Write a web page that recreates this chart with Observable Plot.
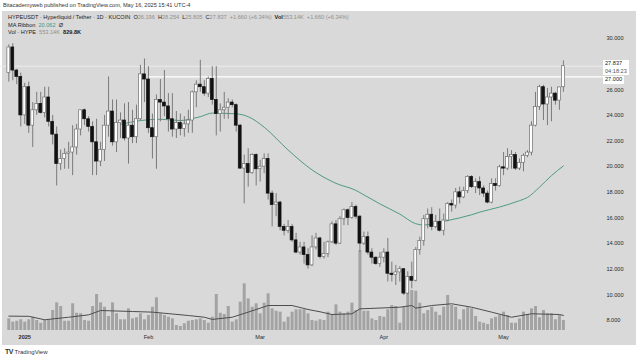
<!DOCTYPE html>
<html><head><meta charset="utf-8">
<script src="https://cdn.jsdelivr.net/npm/d3@7"></script>
<script src="https://cdn.jsdelivr.net/npm/@observablehq/plot@0.6"></script>
<style>
body{margin:0;width:640px;height:360px;background:#fff;overflow:hidden;position:relative;font-family:"Liberation Sans",Arial,sans-serif;}
.abs{position:absolute;}
#panel{left:2px;top:11px;width:634px;height:334px;background:#d9d9d9;}
#top{left:3px;top:2px;font-size:5.6px;color:#333;white-space:nowrap;}
#legend{left:8px;top:14px;font-size:5.6px;color:#222;line-height:7.6px;white-space:nowrap;}
.g{color:#8f8f8f}.t{color:#3f9682}.b{font-weight:bold}
.pbox{background:#fff;color:#222;font-size:5.6px;padding:0 2px;line-height:7.5px;}
#foot{left:5px;top:348px;font-size:6px;color:#333;white-space:nowrap;}
</style></head><body>
<div id="panel" class="abs"></div>
<div id="top" class="abs">Bitacademyweb published on TradingView.com, May 16, 2025 15:41 UTC-4</div>
<div id="vol" class="abs" style="left:0;top:0"></div>
<div id="price" class="abs" style="left:0;top:0"></div>
<div id="legend" class="abs">
<div>HYPEUSDT · Hyperliquid / Tether · 1D · KUCOIN &nbsp;O<span class="g">26.196</span> &nbsp;H<span class="g">28.254</span> &nbsp;L<span class="g">25.805</span> &nbsp;C<span class="g">27.837</span> &nbsp;<span class="g">+1.660 (+6.34%)</span> &nbsp;<span class="b">Vol</span><span class="g">553.14K</span> &nbsp;<span class="g">+1.660 (+6.34%)</span></div>
<div>MA Ribbon &nbsp;<span class="t">20.062</span> &nbsp;Ø</div>
<div>Vol · HYPE &nbsp;<span class="g">553.14K</span> &nbsp;<span class="b">829.8K</span></div>
</div>
<div class="abs pbox" style="left:603px;top:60px;">27.837<br><span style="color:#555">04:18:23</span></div>
<div class="abs pbox" style="left:603px;top:76px;">27.000</div>
<div id="foot" class="abs"><span class="b" style="font-size:7px;letter-spacing:-0.5px">TV</span> TradingView</div>
<script>
// ---- data (daily candles, Dec 28 2024 -> May 16 2025) ----
const startDate = "2024-12-28";
const open  = [27.3,29.3,27.5,27.0,24.0,26.2,23.2,24.4,24.9,24.2,25.4,23.5,22.5,20.2,20.6,21.0,21.1,21.5,22.9,24.4,23.7,23.1,21.9,20.4,21.3,23.2,24.3,21.9,23.4,23.6,22.2,23.2,22.3,23.7,27.2,26.8,23.0,22.3,25.2,25.0,24.7,23.7,22.9,23.4,22.95,23.3,23.6,25.8,26.4,26.2,25.7,26.85,25.2,24.1,24.4,24.6,25.0,24.8,23.2,19.85,20.2,19.5,20.9,19.8,20.0,20.6,17.9,17.0,17.2,15.3,15.0,15.3,14.25,13.3,13.7,13.1,12.3,13.7,14.4,12.95,13.2,14.1,15.5,14.0,15.9,16.6,16.0,16.85,16.1,14.0,14.5,13.3,12.9,12.4,12.9,13.3,11.65,11.55,11.75,12.0,10.1,11.4,11.1,13.5,14.2,15.9,16.25,15.3,15.7,15.0,15.8,17.1,16.97,18.0,17.6,18.1,19.2,18.4,18.8,18.3,17.9,17.2,18.65,18.5,19.95,19.85,20.75,20.9,19.85,20.3,20.85,21.1,23.2,24.65,26.2,24.85,25.4,25.7,25.15,26.196];
const high  = [29.5,29.6,27.6,27.3,26.5,26.6,25.0,25.8,25.8,26.2,26.2,24.0,23.1,21.3,21.4,21.9,23.2,23.3,24.4,24.5,23.9,23.5,23.7,21.9,24.0,27.0,25.2,25.2,24.2,24.9,25.0,24.4,24.8,27.9,28.4,27.8,24.1,25.6,26.8,27.5,25.7,25.7,24.3,24.1,23.9,24.4,25.9,26.7,28.3,26.7,27.0,27.8,27.8,24.9,25.8,25.3,25.2,24.9,23.3,20.9,21.4,21.0,21.0,20.5,21.0,21.0,18.1,17.9,17.3,15.5,15.8,15.5,14.8,14.1,14.1,13.6,14.6,14.8,14.5,14.1,14.2,15.7,15.8,16.1,16.7,16.7,17.2,17.0,16.2,14.9,14.9,13.6,12.95,13.3,13.6,14.4,12.55,12.3,12.2,12.05,11.8,12.55,13.7,14.5,16.2,16.7,16.8,16.2,16.7,16.3,17.2,17.4,18.3,18.4,18.4,19.3,19.3,19.05,19.2,18.5,18.1,19.05,19.05,20.1,21.1,21.4,21.25,21.1,20.6,21.0,21.25,23.5,25.8,26.35,26.35,26.1,26.2,25.8,26.2,28.254];
const low   = [26.6,26.7,26.4,23.1,23.3,22.6,21.5,24.0,24.1,23.8,23.1,21.7,18.5,19.7,19.8,19.8,19.3,20.9,22.4,23.2,22.7,19.3,19.3,20.0,20.4,22.3,21.6,21.1,22.2,22.0,20.2,21.8,21.8,23.6,25.0,22.6,20.6,19.8,23.5,23.9,22.7,22.3,22.2,22.4,22.3,22.6,22.6,24.6,25.8,25.5,25.4,24.8,22.4,22.7,23.7,23.7,24.6,22.7,19.8,17.1,18.4,19.4,18.5,18.8,19.45,17.4,15.3,16.1,15.0,14.6,14.8,14.1,13.2,13.1,12.4,12.0,12.2,13.5,12.8,12.8,12.9,14.0,13.85,13.95,15.4,15.4,15.9,15.9,13.3,13.85,13.1,12.4,12.3,12.15,12.5,11.0,11.0,10.73,11.0,9.95,10.0,10.47,11.0,13.1,13.8,15.15,15.0,15.15,14.9,14.6,15.7,16.45,16.7,17.1,17.5,17.9,18.3,17.9,17.75,17.6,17.1,17.1,18.1,18.4,19.3,19.7,19.8,19.7,19.7,19.6,20.7,20.85,23.1,24.4,23.6,23.2,23.5,24.8,24.4,25.805];
const close = [29.3,27.5,27.0,24.0,26.2,23.2,24.4,24.9,24.2,25.4,23.5,22.5,20.2,20.6,21.0,21.1,21.5,22.9,24.4,23.7,23.1,21.9,20.4,21.3,23.2,24.3,21.9,23.4,23.6,22.2,23.2,22.3,23.7,27.2,26.8,23.0,22.3,25.2,25.0,24.7,23.7,22.9,23.4,22.95,23.3,23.6,25.8,26.4,26.2,25.7,26.85,25.2,24.1,24.4,24.6,25.0,24.8,23.2,19.85,20.2,19.5,20.9,19.8,20.0,20.6,17.9,17.0,17.2,15.3,15.0,15.3,14.25,13.3,13.7,13.1,12.3,13.7,14.4,12.95,13.2,14.1,15.5,14.0,15.9,16.6,16.0,16.85,16.1,14.0,14.5,13.3,12.9,12.4,12.9,13.3,11.65,11.55,11.75,12.0,10.1,11.4,11.1,13.5,14.2,15.9,16.25,15.3,15.7,15.0,15.8,17.1,16.97,18.0,17.6,18.1,19.2,18.4,18.8,18.3,17.9,17.2,18.65,18.5,19.95,19.85,20.75,20.9,19.85,20.3,20.85,21.1,23.2,24.65,26.2,24.85,25.4,25.7,25.15,26.18,27.837];
const volumeK = [640,460,510,590,460,590,730,550,400,550,590,1100,1520,1320,510,510,1470,950,920,550,510,1320,1980,1520,1280,770,1520,920,590,590,1190,640,700,920,590,825,1280,1800,920,825,730,640,275,220,370,510,550,590,640,550,400,730,1980,950,880,1320,460,590,1560,2570,1740,1280,1470,920,1500,2020,1190,1060,1010,460,730,1010,1140,1140,1140,920,550,510,590,550,1010,880,1410,1010,920,1010,1500,1100,4400,1060,1060,640,550,770,730,1140,1375,1320,400,1280,2110,2200,2160,1500,920,1100,1280,1010,825,1280,1925,1375,1280,590,1140,1250,1190,770,460,400,330,640,730,825,1010,825,400,400,640,1010,880,1190,1320,700,1100,920,920,590,825,553.14];
// moving averages
const maDates  = ["2025-01-25","2025-01-30","2025-02-04","2025-02-09","2025-02-12","2025-02-14","2025-02-17","2025-02-23","2025-02-26","2025-03-02","2025-03-08","2025-03-14","2025-03-20","2025-03-25","2025-03-27","2025-03-31","2025-04-05","2025-04-09","2025-04-11","2025-04-17","2025-04-23","2025-04-25","2025-04-30","2025-05-05","2025-05-07","2025-05-10","2025-05-13","2025-05-16"];
const maValues = [23.3,23.6,23.7,23.6,23.75,23.9,24.18,24.12,23.9,23.08,21.3,19.75,18.7,18.15,17.8,17.1,16.3,15.55,15.45,15.8,16.25,16.45,16.85,17.35,17.6,18.4,19.3,20.062];
const volMaDates  = ["2024-12-28","2025-01-02","2025-01-06","2025-01-12","2025-01-17","2025-01-20","2025-01-28","2025-02-02","2025-02-11","2025-02-15","2025-02-17","2025-02-22","2025-02-26","2025-03-03","2025-03-09","2025-03-13","2025-03-16","2025-03-19","2025-03-24","2025-03-26","2025-04-05","2025-04-08","2025-04-09","2025-04-13","2025-04-18","2025-04-23","2025-04-28","2025-05-03","2025-05-08","2025-05-15","2025-05-16"];
const volMaK      = [790,780,590,730,860,1100,1045,1010,825,730,610,730,1010,1375,1375,1155,1030,880,920,1190,1280,1375,1230,1375,1470,1280,1010,730,920,880,829.8];
const yTicks = [8,10,12,14,16,18,20,22,24,26,30];
const xTickDates = ["2025-01-01","2025-02-01","2025-03-01","2025-04-01","2025-05-01"];
const xTickLabels = ["2025","Feb","Mar","Apr","May"];
const priceLineValue = 27.837, rayValue = 27.0, rayStart = "2025-02-01";

// ---- build ----
const DAY = 864e5;
const t0 = new Date(startDate + "T00:00:00Z");
const candles = open.map((o,i)=>({date:new Date(+t0+i*DAY), open:o, high:high[i], low:low[i], close:close[i], vol:volumeK[i]}));
const up = candles.filter(d=>d.close>=d.open), dn = candles.filter(d=>d.close<d.open);
const ma = maDates.map((d,i)=>({date:new Date(d+"T00:00:00Z"), v:maValues[i]}));
const vma = volMaDates.map((d,i)=>({date:new Date(d+"T00:00:00Z"), v:volMaK[i]}));
const xDomain = [candles[0].date, candles[candles.length-1].date];
const xt = xTickDates.map(d=>new Date(d+"T00:00:00Z"));
const lab = new Map(xt.map((d,i)=>[+d, xTickLabels[i]]));
const ext = (d,n)=>new Date(+new Date(d)+n*DAY);
const common = {width:640, height:360, marginLeft:8.3, marginRight:77.1};
const font = {background:"transparent", fontFamily:"'Liberation Sans',Arial,sans-serif", fontSize:"5.6px", color:"#2a2a2a", overflow:"visible"};
const half = 0.36*DAY;

const volPlot = Plot.plot({...common, marginTop:250, marginBottom:30, style:font,
  x:{type:"utc", domain:xDomain, axis:null}, y:{domain:[0,4400], axis:null},
  marks:[
    Plot.ruleX(candles,{x:"date", y1:0, y2:"vol", stroke:"#a3a3a3", strokeWidth:3}),
    Plot.line(vma,{x:"date", y:"v", stroke:"#4d4d4d", strokeWidth:1})
  ]});
document.getElementById("vol").append(volPlot);

const pricePlot = Plot.plot({...common, marginTop:38, marginBottom:40, style:font,
  x:{type:"utc", domain:xDomain}, y:{domain:[8,30]},
  marks:[
    Plot.ruleY([priceLineValue],{x1:ext(xDomain[0],-2.1), x2:ext(xDomain[1],10), stroke:"#ececec", strokeWidth:1}),
    Plot.ruleY([rayValue],{x1:new Date(rayStart+"T00:00:00Z"), x2:ext(xDomain[1],10), stroke:"#ffffff", strokeWidth:1.2}),
    Plot.line(ma,{x:"date", y:"v", stroke:"#4f9985", strokeWidth:1, curve:"monotone-x"}),
    Plot.ruleX(candles,{x:"date", y1:"low", y2:"high", stroke:"#7a7a7a", strokeWidth:1}),
    Plot.rect(up,{x1:d=>new Date(+d.date-half), x2:d=>new Date(+d.date+half), y1:"open", y2:"close", fill:"#ffffff", stroke:"#6f6f6f", strokeWidth:0.7}),
    Plot.rect(dn,{x1:d=>new Date(+d.date-half), x2:d=>new Date(+d.date+half), y1:"open", y2:"close", fill:"#111111", stroke:"#111111", strokeWidth:0.7}),
    Plot.axisY(yTicks,{anchor:"right", tickSize:0, tickPadding:43, tickFormat:d3.format(".3f"), fill:"#2a2a2a"}),
    Plot.axisX(xt.slice(0,1),{anchor:"bottom", tickSize:0, tickPadding:15, tickFormat:d=>lab.get(+d), fontWeight:"bold", fill:"#2a2a2a"}),
    Plot.axisX(xt.slice(1),{anchor:"bottom", tickSize:0, tickPadding:15, tickFormat:d=>lab.get(+d), fill:"#2a2a2a"})
  ]});
document.getElementById("price").append(pricePlot);
</script>
</body></html>
